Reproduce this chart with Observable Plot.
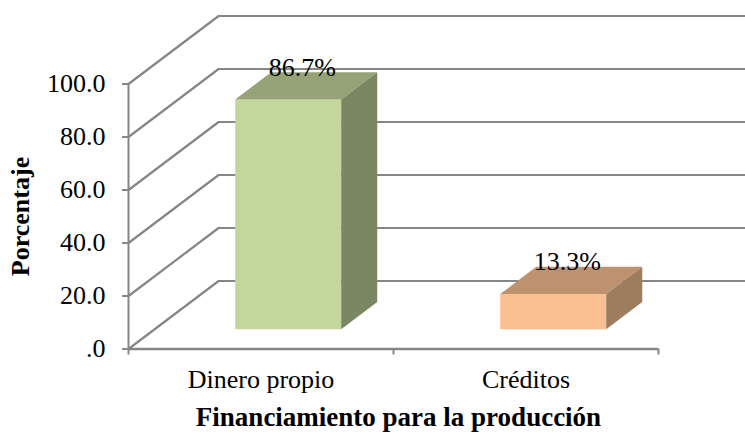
<!DOCTYPE html>
<html><head><meta charset="utf-8">
<script src="https://cdn.jsdelivr.net/npm/d3@7"></script>
<script src="https://cdn.jsdelivr.net/npm/@observablehq/plot@0.6"></script>
<style>html,body{margin:0;padding:0;background:#fff}svg{display:block}</style>
</head><body><div id="chart"></div>
<script>
const categories = ["Dinero propio", "Créditos"];
const values = [86.7, 13.3];
const valueLabels = ["86.7%", "13.3%"];
const yTicks = [0, 20, 40, 60, 80, 100];
const frontColors = ["#c3d69b", "#fac090"];
const topColors = ["#95a377", "#bd926f"];
const sideColors = ["#7b8762", "#9e7d5f"];

// oblique projection of the 3-D chart onto the x / y scales
const depthX = 0.34, depthY = 25.66;
const P = (c, d, v) => ({x: c + d * depthX, y: v + d * depthY});
const halfW = 0.2, d0 = 0.29, d1 = 0.69, shift = 0.004;

const grid = yTicks.flatMap(v => [
  {k: v, ...P(0, 0, v)}, {k: v, ...P(0, 1, v)}, {k: v, ...P(2.02, 1, v)}
]);
const poly = (id, color, pts) => pts.map(p => ({id, color, ...p}));
const faces = values.flatMap((v, i) => {
  const c = i + 0.5 + shift, l = c - halfW, r = c + halfW;
  return [
    ...poly(`f${i}`, frontColors[i], [P(l,d0,0), P(r,d0,0), P(r,d0,v), P(l,d0,v)]),
    ...poly(`t${i}`, topColors[i], [P(l,d0,v), P(r,d0,v), P(r,d1,v), P(l,d1,v)]),
    ...poly(`s${i}`, sideColors[i], [P(r,d0,0), P(r,d1,0), P(r,d1,v), P(r,d0,v)])
  ];
});
const labels = values.map((v, i) => ({text: valueLabels[i], ...P(i + 0.5, 0.48, v)}));

const serif = "'Liberation Serif','Times New Roman',serif";
const gray = "#868686";

const plot = Plot.plot({
  width: 745, height: 432,
  marginLeft: 128, marginRight: 87, marginTop: 83.5, marginBottom: 83.5,
  style: {fontFamily: serif, background: "#fff", color: "#000"},
  x: {type: "linear", domain: [0, 2], label: null},
  y: {type: "linear", domain: [0, 100], label: null},
  marks: [
    Plot.line(grid, {x: "x", y: "y", z: "k", stroke: gray, strokeWidth: 2.2, curve: "linear"}),
    Plot.ruleX([0], {y1: 0, y2: 100, stroke: gray, strokeWidth: 2}),
    Plot.ruleY([0], {x1: 0, x2: 2, stroke: gray, strokeWidth: 2.5}),
    Plot.axisY({ticks: yTicks, tickSize: 6, tickPadding: 17, stroke: gray, strokeWidth: 2,
      tickFormat: v => v === 0 ? ".0" : v.toFixed(1), fontSize: 26, fontFamily: serif, label: null}),
    Plot.axisX({ticks: [0, 1, 2], tickSize: 6, stroke: gray, strokeWidth: 2, tickFormat: () => ""}),
    Plot.axisX({ticks: [0.5, 1.5], tickSize: 0, tickPadding: 21, tickFormat: v => categories[Math.floor(v)],
      fontSize: 26, fontFamily: serif, label: null}),
    Plot.line(faces, {x: "x", y: "y", z: "id", fill: "color", stroke: null, curve: "linear-closed"}),
    Plot.text(labels, {x: "x", y: "y", text: "text", dx: -2, dy: -19, fontSize: 26, fontFamily: serif, fill: "#000"}),
    Plot.text(["Porcentaje"], {x: 0, y: 50, text: d => d, dx: -107.5, rotate: -90, fontSize: 26,
      fontWeight: "bold", fontFamily: serif, fill: "#000"}),
    Plot.text(["Financiamiento para la producción"], {x: 1, y: 0, text: d => d, dx: 5, dy: 68.5, fontSize: 27,
      fontWeight: "bold", fontFamily: serif, fill: "#000"})
  ]
});
document.getElementById("chart").append(plot);
</script></body></html>
